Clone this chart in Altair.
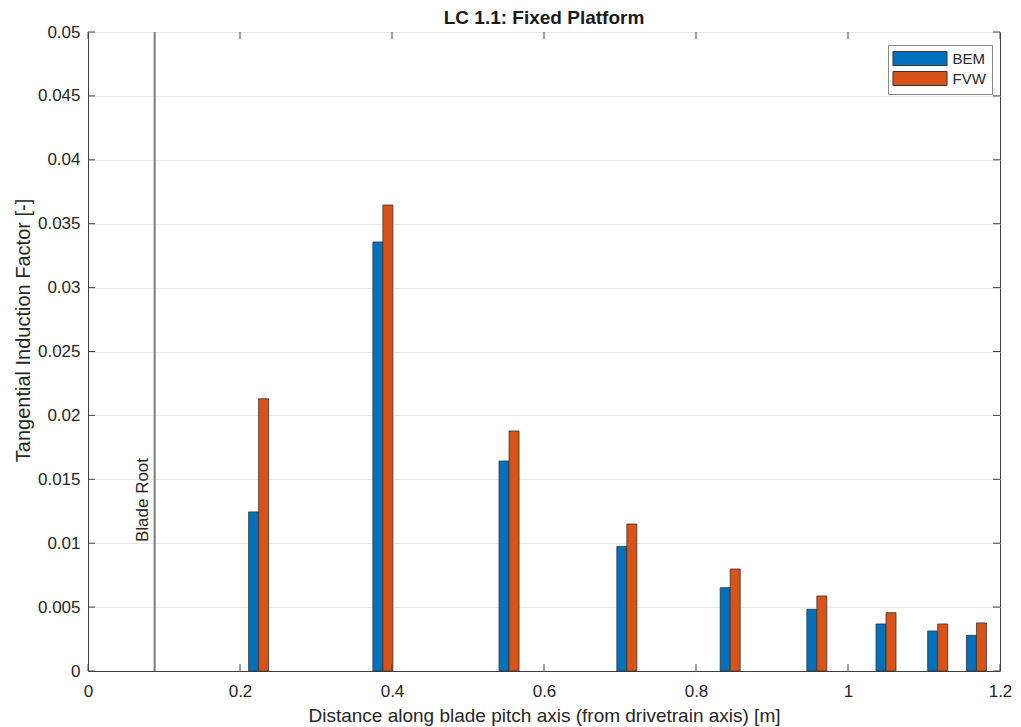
import altair as alt
import pandas as pd

positions = [0.2245, 0.388, 0.554, 0.709, 0.845, 0.959, 1.050, 1.118, 1.169]
bem = [0.01245, 0.03357, 0.01643, 0.00975, 0.00652, 0.00483, 0.00368, 0.00313, 0.00279]
fvw = [0.02130, 0.03646, 0.01878, 0.01150, 0.00798, 0.00587, 0.00456, 0.00368, 0.00376]
series = ["BEM", "FVW"]
colors = ["#0072BD", "#D95319"]
x_ticks = [0, 0.2, 0.4, 0.6, 0.8, 1.0, 1.2]
y_ticks = [0, 0.005, 0.01, 0.015, 0.02, 0.025, 0.03, 0.035, 0.04, 0.045, 0.05]
blade_root_x = [0.0877]
blade_root_label = ["Blade Root"]
blade_root_label_y = [0.01338]

df = pd.DataFrame(
    [{"x": p, "v": b, "s": "BEM"} for p, b in zip(positions, bem)]
    + [{"x": p, "v": f, "s": "FVW"} for p, f in zip(positions, fvw)]
)
root = pd.DataFrame({"x": blade_root_x, "label": blade_root_label, "y": blade_root_label_y})
xt = pd.DataFrame({"t": x_ticks})
yt = pd.DataFrame({"t": y_ticks})

W, H = 912, 639
TICK = 7
FONT = "Liberation Sans"
AXC = "#404040"
xscale = alt.Scale(domain=[0, 1.2], nice=False, zero=False, padding=0)
yscale = alt.Scale(domain=[0, 0.05], nice=False, padding=0)
color = alt.Color(
    "s:N",
    scale=alt.Scale(domain=series, range=colors),
    legend=alt.Legend(
        title=None,
        orient="none",
        legendX=800,
        legendY=13,
        symbolType="M-3.86,-1L3.86,-1L3.86,1L-3.86,1Z",
        symbolSize=196,
        symbolStrokeColor="#333333",
        symbolStrokeWidth=1,
        symbolOffset=18.5,
        labelOffset=25,
        labelFont=FONT,
        labelFontSize=15,
        labelColor="#262626",
        padding=6,
        rowPadding=1,
        strokeColor="#888888",
        fillColor="white",
    ),
)

xaxis = alt.Axis(
    title="Distance along blade pitch axis (from drivetrain axis) [m]",
    values=x_ticks,
    format="~g",
    grid=False,
    labelFlush=False,
    labelPadding=12,
    titlePadding=7,
    titleFontSize=19,
)
yaxis = alt.Axis(
    title="Tangential Induction Factor [-]",
    values=y_ticks,
    format="~g",
    grid=True,
    labelPadding=8,
    titlePadding=4,
    titleFontSize=20,
    titleY=298,
)

bem_bars = alt.Chart(df).transform_filter(alt.datum.s == "BEM").mark_bar(
    width=10, xOffset=-5, stroke="#333333", strokeWidth=0.8
).encode(
    x=alt.X("x:Q", scale=xscale, axis=xaxis),
    y=alt.Y("v:Q", scale=yscale, axis=yaxis),
    color=color,
)
fvw_bars = alt.Chart(df).transform_filter(alt.datum.s == "FVW").mark_bar(
    width=10, xOffset=5, stroke="#333333", strokeWidth=0.8
).encode(
    x=alt.X("x:Q", scale=xscale),
    y=alt.Y("v:Q", scale=yscale),
    color=color,
)

# inward MATLAB-style ticks on all four sides
tb = alt.Chart(xt).mark_rule(color=AXC, strokeWidth=1).encode(
    x=alt.X("t:Q", scale=xscale), y=alt.value(H), y2=alt.value(H - TICK)
)
tt = alt.Chart(xt).mark_rule(color=AXC, strokeWidth=1).encode(
    x=alt.X("t:Q", scale=xscale), y=alt.value(0), y2=alt.value(TICK)
)
tl = alt.Chart(yt).mark_rule(color=AXC, strokeWidth=1).encode(
    y=alt.Y("t:Q", scale=yscale), x=alt.value(0), x2=alt.value(TICK)
)
tr = alt.Chart(yt).mark_rule(color=AXC, strokeWidth=1).encode(
    y=alt.Y("t:Q", scale=yscale), x=alt.value(W), x2=alt.value(W - TICK)
)

rule = alt.Chart(root).mark_rule(color="#7a7a7a", strokeWidth=2).encode(
    x=alt.X("x:Q", scale=xscale)
)
label = alt.Chart(root).mark_text(
    angle=270, align="center", baseline="bottom", dy=-3,
    font=FONT, fontSize=17, color="#262626"
).encode(
    x=alt.X("x:Q", scale=xscale),
    y=alt.Y("y:Q", scale=yscale),
    text="label:N",
)

chart = alt.layer(bem_bars, fvw_bars, tb, tt, tl, tr, rule, label).properties(
    width=W,
    height=H,
    autosize=alt.AutoSizeParams(type="none"),
    padding={"left": 80, "top": 24, "right": 13, "bottom": 55},
    title=alt.TitleParams(
        "LC 1.1: Fixed Platform", font=FONT, fontSize=19, fontWeight="bold",
        color="#1a1a1a", anchor="middle", offset=-5
    ),
).configure_view(
    stroke=AXC, strokeWidth=1
).configure_axis(
    labelFont=FONT, labelFontSize=17, labelColor="#262626",
    titleFont=FONT, titleColor="#262626", titleFontWeight="normal",
    domainColor=AXC, tickColor=AXC, tickSize=0,
    gridColor="#e8e8e8", gridWidth=1,
)

chart.save("out.html", embed_options={"renderer": "svg", "actions": False})
